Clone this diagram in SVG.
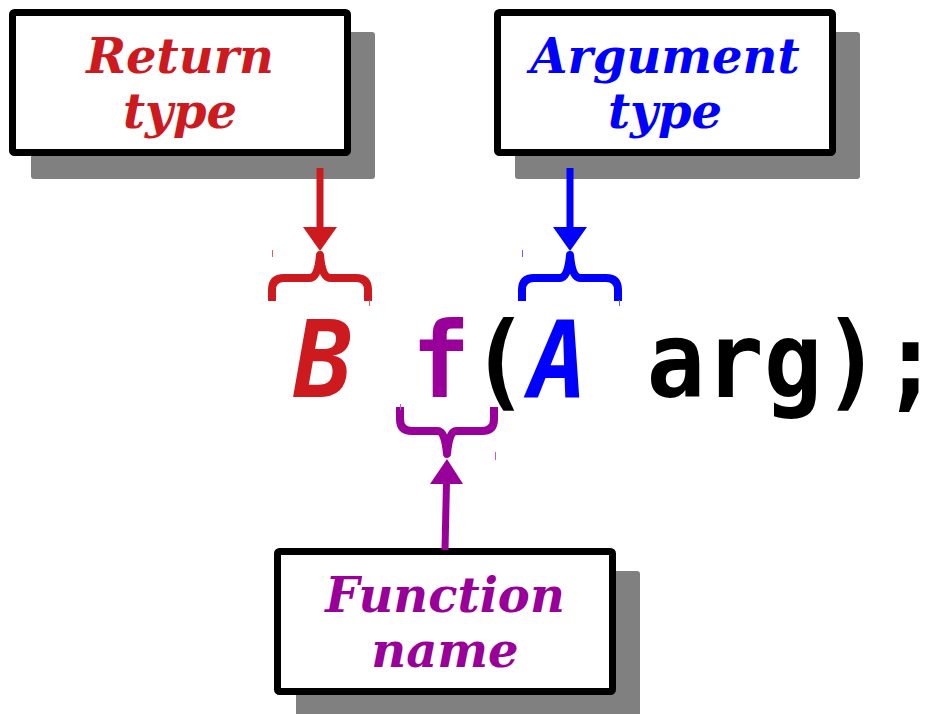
<svg xmlns="http://www.w3.org/2000/svg" width="929" height="714" viewBox="0 0 929 714">
<style>
.shadow{fill:#808080}
.box{fill:#fff;stroke:#000;stroke-width:7}
.lbl{font-family:"DejaVu Serif",serif;font-weight:bold;font-style:italic;font-size:48px;text-anchor:middle}
.code{font-family:"DejaVu Sans Mono",monospace;font-weight:bold;font-size:106px}
.brace{fill:none;stroke-width:8;stroke-linejoin:round}
.tick{stroke-width:1}
</style>
<rect width="929" height="714" fill="#fff"/>
<g id="return-type">
<rect class="shadow" x="31" y="32" width="344" height="147" rx="3"/>
<rect class="box" x="12.5" y="12.5" width="335" height="140" rx="2"/>
<text class="lbl" x="180" y="73" fill="#cd1a1f">Return</text>
<text class="lbl" x="180" y="128" fill="#cd1a1f">type</text>
</g>
<g id="argument-type">
<rect class="shadow" x="515" y="32" width="345" height="147" rx="3"/>
<rect class="box" x="497.5" y="12.5" width="335" height="140" rx="2"/>
<text class="lbl" x="665" y="73" fill="#0000ff">Argument</text>
<text class="lbl" x="665" y="128" fill="#0000ff">type</text>
</g>
<g id="function-name">
<rect class="shadow" x="296" y="571" width="344" height="147" rx="3"/>
<rect class="box" x="277.5" y="551.5" width="335" height="140" rx="2"/>
<text class="lbl" x="445" y="612" fill="#990099">Function</text>
<text class="lbl" x="445" y="667" fill="#990099">name</text>
</g>
<g id="code">
<text class="code" x="294" y="397" textLength="646" lengthAdjust="spacingAndGlyphs" xml:space="preserve"><tspan fill="#cd1a1f" font-style="italic">B</tspan> <tspan fill="#990099">f</tspan><tspan fill="#000">(</tspan><tspan fill="#0000ff" font-style="italic">A</tspan><tspan fill="#000"> arg);</tspan></text>
</g>
<g id="connectors">
<line x1="320" y1="168" x2="320" y2="230" stroke="#cd1a1f" stroke-width="7"/>
<polygon points="303,227 337,227 320,251" fill="#cd1a1f"/>
<path class="brace" stroke="#cd1a1f" d="M272,301 V290 Q272,278 284,278 H310 Q318,278 320,255 Q322,278 330,278 H356 Q368,278 368,290 V301"/>
<line class="tick" x1="272.5" y1="250" x2="272.5" y2="257" stroke="#e06060"/>
<line class="tick" x1="369.5" y1="300" x2="369.5" y2="306" stroke="#e06060"/>

<line x1="570" y1="168" x2="570" y2="230" stroke="#0000ff" stroke-width="7"/>
<polygon points="553,227 587,227 570,251" fill="#0000ff"/>
<path class="brace" stroke="#0000ff" d="M522,301 V290 Q522,278 534,278 H560 Q568,278 570,255 Q572,278 580,278 H606 Q618,278 618,290 V301"/>
<line class="tick" x1="522.5" y1="250" x2="522.5" y2="257" stroke="#6060ff"/>
<line class="tick" x1="619.5" y1="300" x2="619.5" y2="306" stroke="#6060ff"/>

<line x1="445" y1="550" x2="446.5" y2="482" stroke="#990099" stroke-width="7"/>
<polygon points="430,484 463,484 447,459" fill="#990099"/>
<path class="brace" stroke="#990099" d="M400,407 V419 Q400,431 412,431 H438 Q445,431 447,454 Q449,431 456,431 H482 Q494,431 494,419 V407"/>
<line class="tick" x1="400.5" y1="404" x2="400.5" y2="410" stroke="#c060c0"/>
<line class="tick" x1="495.5" y1="452" x2="495.5" y2="460" stroke="#c060c0"/>
</g>
</svg>
